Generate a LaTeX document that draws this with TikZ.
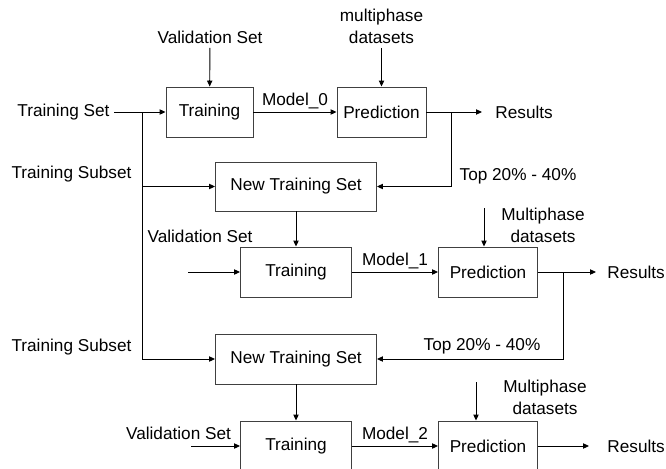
\documentclass[tikz,border=0pt]{standalone}
\usepackage{fontspec}
\setmainfont{Liberation Sans}
\usetikzlibrary{arrows.meta, positioning}

\begin{document}
\begin{tikzpicture}[x=0.75pt, y=-0.75pt, >={Triangle[length=4.5pt, width=4pt]}, line width=0.7pt,
  box/.style={draw=black!75, minimum height=37.5pt, font=\fontsize{12.9}{16.5}\selectfont},
  lbl/.style={inner sep=3pt, align=center, font=\fontsize{12.9}{16.5}\selectfont}]
\useasboundingbox (0,0) rectangle (666,468);
% first round
\node[box, minimum width=65.25pt] (train0) at (209.5,112) {Training};
\node[box, minimum width=66.75pt] (pred0) at (381.5,112) {Prediction};
\node[lbl, anchor=east] (trainset) at (114,112) {Training Set};
\node[lbl] (val0) at (210,37) {Validation Set};
\node[lbl] (multi0) at (381.5,26) {multiphase\\datasets};
\node[lbl, anchor=west] (res0) at (491,112) {Results};
\node[box, minimum width=120.75pt, minimum height=36.75pt] (newset0) at (296,186.5) {New Training Set};
\node[lbl] (sub0) at (71.5,174) {Training Subset};
\node[lbl] (top0) at (518,176) {Top 20\% - 40\%};
% second round
\node[box, minimum width=83.25pt] (train1) at (296,272) {Training};
\node[box, minimum width=74.25pt] (pred1) at (488,272) {Prediction};
\node[lbl] (val1) at (200,236) {Validation Set};
\node[lbl] (multi1) at (543,225) {Multiphase\\datasets};
\node[lbl, anchor=west] (res1) at (603,272) {Results};
\node[box, minimum width=120.75pt] (newset1) at (296,359) {New Training Set};
\node[lbl] (sub1) at (71.5,347) {Training Subset};
\node[lbl] (top1) at (482,346) {Top 20\% - 40\%};
% third round
\node[box, minimum width=83.25pt] (train2) at (296,446) {Training};
\node[box, minimum width=74.25pt] (pred2) at (488,446) {Prediction};
\node[lbl] (val2) at (178.5,433) {Validation Set};
\node[lbl] (multi2) at (545,397) {Multiphase\\datasets};
\node[lbl, anchor=west] (res2) at (603,446) {Results};
% junctions and free ends
\coordinate (j0) at (142,112);
\coordinate (j1) at (451,112);
\coordinate (j2) at (563,272);
\coordinate (in1) at (188,272);
\coordinate (in2) at (191,446);
\coordinate (m1) at (484,208);
\coordinate (m2) at (476,382);
% connectors
\draw[->] (trainset) -- (train0);
\draw[->] (j0) |- (newset1);
\draw[->] (j0 |- newset0) -- (newset0);
\draw[->] (val0) -- (train0);
\draw[->] (train0) -- node[lbl, above, inner sep=2pt] {Model\_0} (pred0);
\draw[->] (multi0) -- (pred0);
\draw[->, shorten >=6.75pt] (pred0) -- (res0);
\draw[->] (j1) |- (newset0);
\draw[->] (newset0) -- (train1);
\draw[->] (in1) -- (train1);
\draw[->] (train1) -- node[lbl, above, inner sep=2pt] {Model\_1} (pred1);
\draw[->] (m1) -- (m1 |- pred1.north);
\draw[->, shorten >=5.25pt] (pred1) -- (res1);
\draw[->] (j2) |- (newset1);
\draw[->] (newset1) -- (train2);
\draw[->] (in2) -- (train2);
\draw[->] (train2) -- node[lbl, above, inner sep=2pt] {Model\_2} (pred2);
\draw[->] (m2) -- (m2 |- pred2.north);
\draw[->, shorten >=10.5pt] (pred2) -- (res2);
\end{tikzpicture}
\end{document}
